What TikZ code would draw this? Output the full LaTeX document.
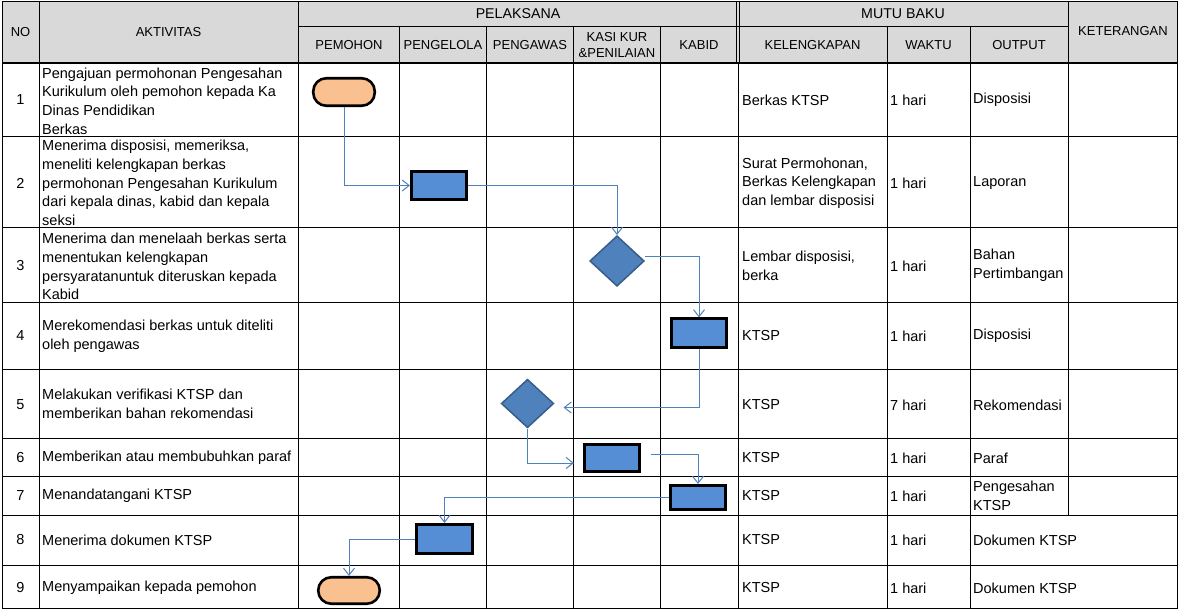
\documentclass[tikz,border=0pt]{standalone}
\usepackage{fontspec}
\setmainfont{Liberation Sans}
\usetikzlibrary{shapes.geometric, arrows.meta}

\definecolor{hdrgray}{RGB}{217,217,217}
\definecolor{boxblue}{RGB}{85,142,213}
\definecolor{diablue}{RGB}{79,129,189}
\definecolor{diaedge}{RGB}{56,93,138}
\definecolor{termorange}{RGB}{250,192,144}
\definecolor{flowblue}{RGB}{79,129,189}

\begin{document}
\begin{tikzpicture}[x=1pt, y=-1pt,
		font=\fontsize{14.5}{18.7}\selectfont,
		cell/.style={anchor=west, align=left, inner sep=0},
		mid/.style={align=center, inner sep=0},
		hdr/.style={align=center, inner sep=0, font=\fontsize{13}{16}\selectfont},
		procbox/.style={draw, line width=2.6pt, fill=boxblue, minimum width=55.5pt, minimum height=28.5pt, inner sep=0},
		termbox/.style={draw, line width=2.6pt, fill=termorange, rounded corners=13pt, minimum width=61.5pt, minimum height=27.5pt, inner sep=0},
		decision/.style={diamond, draw=diaedge, line width=1.5pt, fill=diablue, minimum width=52.5pt, minimum height=48.5pt, inner sep=0},
		flow/.style={draw=flowblue, line width=1pt, -{Straight Barb[length=7pt, width=11pt]}}
	]
			\useasboundingbox (0,0) rectangle (1179,610);

			\fill[hdrgray] (2,2) rectangle (1177,63.5);

			\draw[line width=1pt]
				(2,2) rectangle (1177,608)
				(298,27) -- (1068.5,27)
				(2,136) -- (1177,136)
				(2,227) -- (1177,227)
				(2,302) -- (1177,302)
				(2,369) -- (1177,369)
				(2,438) -- (1177,438)
				(2,476) -- (1177,476)
				(2,515) -- (1177,515)
				(2,565) -- (1177,565)
				(39.5,2) -- (39.5,608)
				(298,2) -- (298,608)
				(399,27) -- (399,608)
				(486.5,27) -- (486.5,608)
				(573.5,27) -- (573.5,608)
				(660.5,27) -- (660.5,608)
				(738,63.5) -- (738,608)
				(887,27) -- (887,608)
				(970,27) -- (970,608)
				(1068.5,2) -- (1068.5,515);
			\draw[line width=1pt]
				(736.7,2) -- (736.7,63.5)
				(739.3,2) -- (739.3,63.5);
			\draw[line width=2pt] (2,63.5) -- (1177,63.5);

			\node[hdr] (hNo) at (20.5,32) {NO};
			\node[hdr] (hAkt) at (168.5,32) {AKTIVITAS};
			\node[mid, font=\fontsize{14.2}{16}\selectfont] (hPel) at (518,13.5) {PELAKSANA};
			\node[mid, font=\fontsize{14.2}{16}\selectfont] (hMutu) at (903,13.5) {MUTU BAKU};
			\node[hdr] (hKet) at (1123,31) {KETERANGAN};
			\node[hdr] (hPem) at (349,45) {PEMOHON};
			\node[hdr] (hPeng) at (443,45) {PENGELOLA};
			\node[hdr] (hPaw) at (530,45) {PENGAWAS};
			\node[hdr] (hKasi) at (617,45) {KASI KUR\\\&PENILAIAN};
			\node[hdr] (hKabid) at (699,45) {KABID};
			\node[hdr] (hKel) at (812.5,45) {KELENGKAPAN};
			\node[hdr] (hWak) at (928.5,45) {WAKTU};
			\node[hdr] (hOut) at (1019,45) {OUTPUT};

			\node[mid] (no1) at (20.5,100) {1};
			\node[mid] (no2) at (20.5,183) {2};
			\node[mid] (no3) at (20.5,266) {3};
			\node[mid] (no4) at (20.5,336) {4};
			\node[mid] (no5) at (20.5,405) {5};
			\node[mid] (no6) at (20.5,458) {6};
			\node[mid] (no7) at (20.5,496) {7};
			\node[mid] (no8) at (20.5,540) {8};
			\node[mid] (no9) at (20.5,588) {9};

			\node[cell] (akt1) at (42,101) {Pengajuan permohonan Pengesahan\\Kurikulum oleh pemohon kepada Ka\\Dinas Pendidikan\\Berkas};
			\node[cell] (akt2) at (42,183) {Menerima disposisi, memeriksa,\\meneliti kelengkapan berkas\\permohonan Pengesahan Kurikulum\\dari kepala dinas, kabid dan kepala\\seksi};
			\node[cell] (akt3) at (42,266.5) {Menerima dan menelaah berkas serta\\menentukan kelengkapan\\persyaratanuntuk diteruskan kepada\\Kabid};
			\node[cell] (akt4) at (42,336.5) {Merekomendasi berkas untuk diteliti\\oleh pengawas};
			\node[cell] (akt5) at (42,404) {Melakukan verifikasi KTSP dan\\memberikan bahan rekomendasi};
			\node[cell] (akt6) at (42,458) {Memberikan atau membubuhkan paraf};
			\node[cell] (akt7) at (42,496) {Menandatangani KTSP};
			\node[cell] (akt8) at (42,540) {Menerima dokumen KTSP};
			\node[cell] (akt9) at (42,588) {Menyampaikan kepada pemohon};

			\node[cell] (kel1) at (742,100) {Berkas KTSP};
			\node[cell] (kel2) at (742,183) {Surat Permohonan,\\Berkas Kelengkapan\\dan lembar disposisi};
			\node[cell] (kel3) at (742,265.5) {Lembar disposisi,\\berka};
			\node[cell] (kel4) at (742,336) {KTSP};
			\node[cell] (kel5) at (742,405) {KTSP};
			\node[cell] (kel6) at (742,458) {KTSP};
			\node[cell] (kel7) at (742,496) {KTSP};
			\node[cell] (kel8) at (742,540) {KTSP};
			\node[cell] (kel9) at (742,588) {KTSP};

			\node[cell] (wak1) at (890,100) {1 hari};
			\node[cell] (wak2) at (890,183) {1 hari};
			\node[cell] (wak3) at (890,266) {1 hari};
			\node[cell] (wak4) at (890,336) {1 hari};
			\node[cell] (wak5) at (890,405) {7 hari};
			\node[cell] (wak6) at (890,458) {1 hari};
			\node[cell] (wak7) at (890,496) {1 hari};
			\node[cell] (wak8) at (890,540) {1 hari};
			\node[cell] (wak9) at (890,588) {1 hari};

			\node[cell] (out1) at (973,100) {Disposisi};
			\node[cell] (out2) at (973,183) {Laporan};
			\node[cell] (out3) at (973,265.5) {Bahan\\Pertimbangan};
			\node[cell] (out4) at (973,336) {Disposisi};
			\node[cell] (out5) at (973,405) {Rekomendasi};
			\node[cell] (out6) at (973,458) {Paraf};
			\node[cell] (out7) at (973,496) {Pengesahan\\KTSP};
			\node[cell] (out8) at (973,540) {Dokumen KTSP};
			\node[cell] (out9) at (973,588) {Dokumen KTSP};

			\node[termbox] (term1) at (344,92) {};
			\node[procbox] (rect2) at (439,185.5) {};
			\node[decision, minimum width=54.5pt, minimum height=50.5pt] (dia3) at (617,261) {};
			\node[procbox] (rect4) at (699,333) {};
			\node[decision] (dia5) at (527.5,403.5) {};
			\node[procbox, minimum height=27.5pt] (rect6) at (612,458) {};
			\node[procbox, minimum height=24.5pt] (rect7) at (698,497.5) {};
			\node[procbox, minimum width=56.5pt, minimum height=29.5pt] (rect8) at (444.5,539) {};
			\node[termbox, minimum height=26.5pt] (term9) at (349,590.5) {};

			\begin{scope}[flow]
				\draw (term1.south) |- (rect2.west);
				\draw (rect2.east) -| (dia3.north);
				\draw ([yshift=5pt]dia3.east) -| (rect4.north);
				\draw[shorten >=9pt] (rect4.south) |- ([yshift=-4pt]dia5.east);
				\draw[shorten >=9pt] (dia5.south) |- ([yshift=-5pt]rect6.west);
				\draw[shorten <=10pt] ([yshift=4pt]rect6.east) -| (rect7.north);
				\draw (rect7.west) -| (rect8.north);
				\draw (rect8.west) -| (term9.north);
			\end{scope}
		\end{tikzpicture}
\end{document}
